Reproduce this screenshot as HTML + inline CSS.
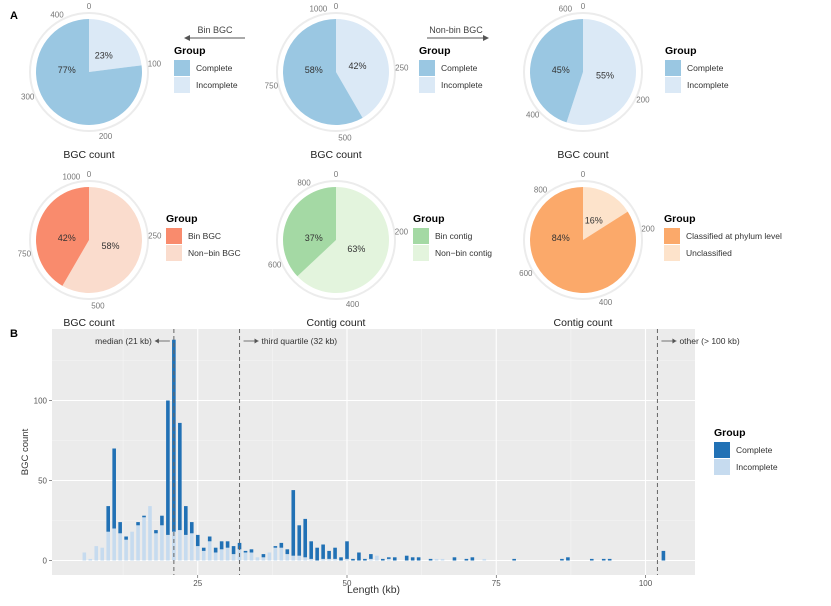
<!DOCTYPE html>
<html><head><meta charset="utf-8"><style>
body{margin:0;background:#fff;width:831px;height:601px;overflow:hidden;font-family:"Liberation Sans",sans-serif}
svg text{font-family:"Liberation Sans",sans-serif}
</style></head><body>
<svg id="fig" width="831" height="601" viewBox="0 0 831 601">
<text x="10" y="19" font-size="11" font-weight="bold" fill="#000">A</text>
<text x="10" y="337" font-size="11" font-weight="bold" fill="#000">B</text>
<g>
<text x="215" y="33" font-size="9" fill="#444" text-anchor="middle">Bin BGC</text>
<line x1="245" y1="38" x2="186" y2="38" stroke="#555" stroke-width="1"/>
<path d="M184,38 L190,35 L190,41 Z" fill="#555"/>
</g>
<g>
<text x="456" y="33" font-size="9" fill="#444" text-anchor="middle">Non-bin BGC</text>
<line x1="427" y1="38" x2="486" y2="38" stroke="#555" stroke-width="1"/>
<path d="M489,38 L483,35 L483,41 Z" fill="#555"/>
</g>
<g id="pies"></g>
<g id="hist"></g>
</svg>
<script>
const NS='http://www.w3.org/2000/svg';
function mk(tag,attrs,parent){const e=document.createElementNS(NS,tag);for(const k in attrs)e.setAttribute(k,attrs[k]);parent.appendChild(e);return e;}

// ---- Pie data ----
const pieNames=['bin-bgc','all-bgc','non-bin-bgc','bgc-origin','contig-bin','contig-taxonomy'];
const pieLightValues=[100,435,345,610,548,144];
const pieDarkValues=[335,610,282,435,322,756];
const pieLightLabels=['Incomplete','Incomplete','Incomplete','Non−bin BGC','Non−bin contig','Unclassified'];
const pieDarkLabels=['Complete','Complete','Complete','Bin BGC','Bin contig','Classified at phylum level'];
const pieTicks=[[0,100,200,300,400],[0,250,500,750,1000],[0,200,400,600],[0,250,500,750,1000],[0,200,400,600,800],[0,200,400,600,800]];
const pieTitles=['BGC count','BGC count','BGC count','BGC count','Contig count','Contig count'];
const pieColors=[['#9ac7e2','#dbe9f6'],['#9ac7e2','#dbe9f6'],['#9ac7e2','#dbe9f6'],['#f98b6d','#fadccd'],['#a4d9a4','#e3f4dd'],['#fba96a','#fde3cb']];
const pieCX=[89,336,583,89,336,583], pieCY=[72,72,72,240,240,240];
const legX=[174,419,665,166,413,664];

const pg=document.getElementById('pies');
for(let i=0;i<6;i++){
  const g=mk('g',{},pg);
  
  
  const cx=pieCX[i],cy=pieCY[i],r=53;
  const total=pieLightValues[i]+pieDarkValues[i];
  const ring=mk('circle',{cx:cx,cy:cy,r:r+6,fill:'none',stroke:'#ececec','stroke-width':2},g);
  
  
  const pt=(v,rr)=>{const a=v/total*2*Math.PI;return [cx+rr*Math.sin(a),cy-rr*Math.cos(a)];};
  const arc=(v0,v1,col,name)=>{
    const [x0,y0]=pt(v0,r),[x1,y1]=pt(v1,r);const large=(v1-v0)/total>0.5?1:0;
    const p=mk('path',{d:`M${cx},${cy} L${x0},${y0} A${r},${r} 0 ${large} 1 ${x1},${y1} Z`,fill:col},g);
    
    
  };
  const L=pieLightValues[i];
  arc(0,L,pieColors[i][1],'slice-light');
  arc(L,total,pieColors[i][0],'slice-dark');
  pieTicks[i].forEach(t=>{
    const [tx,ty]=pt(t,r+13);
    const tt=mk('text',{x:tx,y:ty+3,'font-size':8,fill:'#777','text-anchor':'middle'},g);
    tt.textContent=t;
    
    
  });
  const pl=Math.round(L/total*100), pd=100-pl;
  const [lx,ly]=pt(L/2,r*0.42);
  const t1=mk('text',{x:lx,y:ly+3,'font-size':9,fill:'#333','text-anchor':'middle'},g);
  t1.textContent=pl+'%';
  
  
  const t2=mk('text',{x:cx-r*0.42,y:cy+1,'font-size':9,fill:'#333','text-anchor':'middle'},g);
  t2.textContent=pd+'%';
  
  
  const ti=mk('text',{x:cx,y:cy+86,'font-size':10.5,fill:'#222','text-anchor':'middle'},g);
  ti.textContent=pieTitles[i];
  
  
  const lg=mk('g',{},g);
  
  
  const ly0=cy-16;
  const gt=mk('text',{x:legX[i],y:ly0-2,'font-size':10.5,'font-weight':'bold',fill:'#000'},lg);
  gt.textContent='Group';
  mk('rect',{x:legX[i],y:ly0+4,width:16,height:16,fill:pieColors[i][0]},lg);
  mk('rect',{x:legX[i],y:ly0+21,width:16,height:16,fill:pieColors[i][1]},lg);
  const a1=mk('text',{x:legX[i]+22,y:ly0+15,'font-size':8.5,fill:'#333'},lg);a1.textContent=pieDarkLabels[i];
  const a2=mk('text',{x:legX[i]+22,y:ly0+32,'font-size':8.5,fill:'#333'},lg);a2.textContent=pieLightLabels[i];
}

// ---- Histogram data ----
const lengthsKb=[6,7,8,9,10,11,12,13,14,15,16,17,18,19,20,21,22,23,24,25,26,27,28,29,30,31,32,33,34,35,36,37,38,39,40,41,42,43,44,45,46,47,48,49,50,51,52,53,54,55,56,57,58,60,61,62,64,65,66,68,70,71,73,78,86,87,91,93,94,103];
const incompleteCounts=[5,1,9,8,18,20,17,13,18,22,27,34,17,22,16,18,19,16,17,9,6,12,5,7,8,4,7,5,5,2,2,5,8,8,4,3,3,2,1,0,1,1,1,0,1,0,0,0,1,3,0,1,0,0,0,0,0,1,1,0,0,0,1,0,0,0,0,0,0,0];
const completeCounts=[0,0,0,0,16,50,7,2,0,2,1,0,2,6,84,120,67,18,7,7,2,3,3,5,4,5,4,1,2,0,2,0,1,3,3,41,19,24,11,8,9,5,7,2,11,1,5,1,3,0,1,1,2,3,2,2,1,0,0,2,1,2,0,1,1,2,1,1,1,6];
const yTicks=[0,50,100];
const xTicks=[25,50,75,100];
const markerKb=[21,32,102];
const markerLabels=['median (21 kb)','third quartile (32 kb)','other (> 100 kb)'];

const P={l:52,r:695,t:329,b:575};
const xs=v=>48.5+v*5.97;
const ys=v=>560.5-v*1.6;
const hg=document.getElementById('hist');
const panel=mk('rect',{x:P.l,y:P.t,width:P.r-P.l,height:P.b-P.t,fill:'#ebebeb'},hg);


[25,75,125].forEach(v=>{const l=mk('line',{x1:P.l,x2:P.r,y1:ys(v),y2:ys(v),stroke:'#f5f5f5','stroke-width':0.6},hg);});
[12.5,37.5,62.5,87.5].forEach(v=>{const l=mk('line',{x1:xs(v),x2:xs(v),y1:P.t,y2:P.b,stroke:'#f5f5f5','stroke-width':0.6},hg);});
yTicks.forEach(v=>{
  const l=mk('line',{x1:P.l,x2:P.r,y1:ys(v),y2:ys(v),stroke:'#fff','stroke-width':1.1},hg);
  
  
  mk('line',{x1:P.l-3,x2:P.l,y1:ys(v),y2:ys(v),stroke:'#444','stroke-width':0.6},hg);
  const t=mk('text',{x:P.l-5,y:ys(v)+3,'font-size':8,fill:'#555','text-anchor':'end'},hg);
  t.textContent=v;
  
  
});
xTicks.forEach(v=>{
  const l=mk('line',{x1:xs(v),x2:xs(v),y1:P.t,y2:P.b,stroke:'#fff','stroke-width':1.1},hg);
  
  
  mk('line',{x1:xs(v),x2:xs(v),y1:P.b,y2:P.b+3,stroke:'#444','stroke-width':0.6},hg);
  const t=mk('text',{x:xs(v),y:P.b+11,'font-size':8,fill:'#555','text-anchor':'middle'},hg);
  t.textContent=v;
  
  
});
lengthsKb.forEach((k,i)=>{
  const inc=incompleteCounts[i],comp=completeCounts[i],w=3.6,x=xs(k)-w/2;
  if(inc>0){const b=mk('rect',{x:x,y:ys(inc),width:w,height:ys(0)-ys(inc),fill:'#c6dbef'},hg);
    
    }
  if(comp>0){const b=mk('rect',{x:x,y:ys(inc+comp),width:w,height:ys(inc)-ys(inc+comp),fill:'#2171b5'},hg);
    
    }
});
markerKb.forEach((k,i)=>{
  const l=mk('line',{x1:xs(k),x2:xs(k),y1:P.t,y2:P.b,stroke:'#666','stroke-width':1,'stroke-dasharray':'4,3'},hg);
  
  
  const x=xs(k),y=341;
  const left=i===0;
  const ax0=left?x-4:x+4, ax1=left?x-19:x+19;
  mk('line',{x1:ax0,x2:ax1,y1:y,y2:y,stroke:'#555','stroke-width':0.8},hg);
  mk('path',{d:left?`M${ax1},${y} l4,-2.5 l0,5 Z`:`M${ax1},${y} l-4,-2.5 l0,5 Z`,fill:'#555'},hg);
  const t=mk('text',{x:left?ax1-3:ax1+3,y:y+3,'font-size':8.5,fill:'#333','text-anchor':left?'end':'start'},hg);
  t.textContent=markerLabels[i];
  
  
});
const yl=mk('text',{x:0,y:0,'font-size':9.5,fill:'#333','text-anchor':'middle',transform:`translate(28,${(P.t+P.b)/2}) rotate(-90)`},hg);
yl.textContent='BGC count';


const xl=mk('text',{x:(P.l+P.r)/2,y:593,'font-size':10.5,fill:'#333','text-anchor':'middle'},hg);
xl.textContent='Length (kb)';


const hl=mk('g',{},hg);


const hgT=mk('text',{x:714,y:436,'font-size':10.5,'font-weight':'bold',fill:'#000'},hl);hgT.textContent='Group';
mk('rect',{x:714,y:442,width:16,height:16,fill:'#2171b5'},hl);
mk('rect',{x:714,y:459,width:16,height:16,fill:'#c6dbef'},hl);
const h1=mk('text',{x:736,y:453,'font-size':8.5,fill:'#333'},hl);h1.textContent='Complete';
const h2=mk('text',{x:736,y:470,'font-size':8.5,fill:'#333'},hl);h2.textContent='Incomplete';
</script>
</body></html>
